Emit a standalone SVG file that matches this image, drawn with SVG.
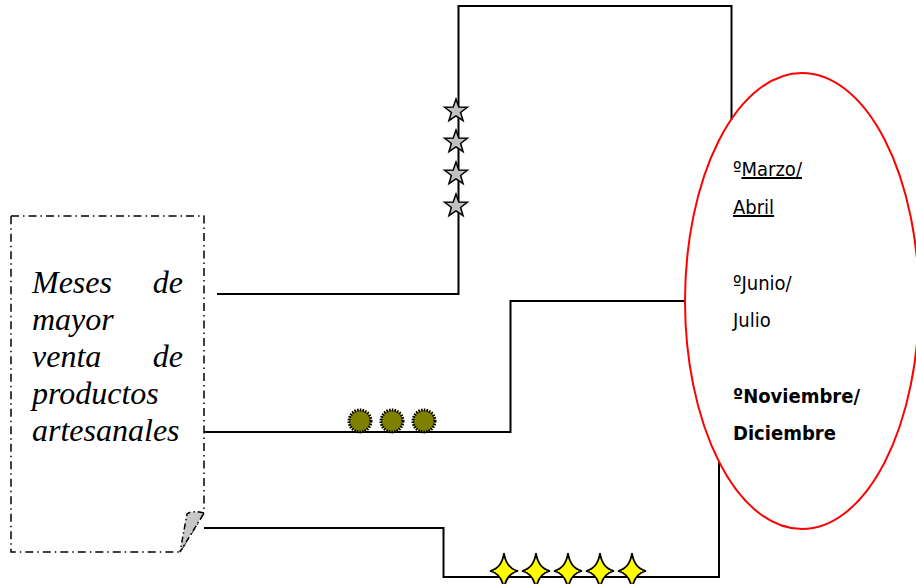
<svg xmlns="http://www.w3.org/2000/svg" width="916" height="584" viewBox="0 0 916 584">
<style>
.ln{fill:none;stroke:#000;stroke-width:2}
.star{fill:#c0c0c0;stroke:#000;stroke-width:1.5;stroke-linejoin:miter}
.dot{fill:#808000;stroke:#000;stroke-width:3;stroke-dasharray:1.5 1.2}
.spark{fill:#ffff00;stroke:#000;stroke-width:1.8}
.lbl{font-family:"Liberation Serif","Times New Roman",serif;font-style:italic;font-size:32px;fill:#000}
.hand{font-family:"Liberation Sans Narrow","DejaVu Sans Condensed","Liberation Sans",sans-serif;font-size:20px;fill:#000}
</style>
<defs>
<polygon id="st" points="0,-12 2.8,-3.9 11.4,-3.7 4.6,1.5 7.1,9.7 0,4.8 -7.1,9.7 -4.6,1.5 -11.4,-3.7 -2.8,-3.9"/>
<path id="sp" d="M0,-18 Q2,-3 14,0 Q2,3 0,18 Q-2,3 -14,0 Q-2,-3 0,-18Z"/>
</defs>
<g id="connectors">
<polyline class="ln" points="217,294 458.5,294 458.5,6 731.5,6 731.5,120"/>
<polyline class="ln" points="204,432 510.5,432 510.5,301 684,301"/>
<polyline class="ln" points="204,528 443.5,528 443.5,577 719,577 719,462"/>
<g id="stars">
<use href="#st" class="star" x="456" y="111"/>
<use href="#st" class="star" x="456" y="142"/>
<use href="#st" class="star" x="456" y="174"/>
<use href="#st" class="star" x="456" y="206"/>
</g>
<g id="dots">
<circle class="dot" cx="360" cy="421" r="11"/>
<circle class="dot" cx="392" cy="421" r="11"/>
<circle class="dot" cx="424" cy="421" r="11"/>
</g>
<g id="sparks">
<use href="#sp" class="spark" x="504" y="571"/>
<use href="#sp" class="spark" x="536" y="571"/>
<use href="#sp" class="spark" x="568" y="571"/>
<use href="#sp" class="spark" x="600" y="571"/>
<use href="#sp" class="spark" x="632" y="571"/>
</g>
</g>
<g id="node-meses">
<path d="M11,216 H204 V513 L180,552 H11 Z" fill="#fff" stroke="#000" stroke-width="1.5" stroke-dasharray="8 4 1.5 4"/>
<path d="M204,513 Q192,510 187,514 L180,552 Z" fill="#c8c8c8" stroke="#000" stroke-width="1.5" stroke-dasharray="6 3 1.5 3"/>
<text class="lbl" x="32" y="293">Meses</text>
<text class="lbl" x="183" y="293" text-anchor="end">de</text>
<text class="lbl" x="32" y="330">mayor</text>
<text class="lbl" x="32" y="367">venta</text>
<text class="lbl" x="183" y="367" text-anchor="end">de</text>
<text class="lbl" x="32" y="404">productos</text>
<text class="lbl" x="32" y="441">artesanales</text>
</g>
<g id="node-meses-venta">
<ellipse cx="802" cy="301" rx="117" ry="228" fill="none" stroke="#ff0000" stroke-width="2"/>
<text class="hand" x="733" y="176">º<tspan text-decoration="underline">Marzo/</tspan></text>
<text class="hand" x="733" y="214" text-decoration="underline">Abril</text>
<text class="hand" x="733" y="290">ºJunio/</text>
<text class="hand" x="733" y="327">Julio</text>
<text class="hand" x="733" y="403" font-weight="bold">ºNoviembre/</text>
<text class="hand" x="733" y="440" font-weight="bold">Diciembre</text>
</g>
</svg>
